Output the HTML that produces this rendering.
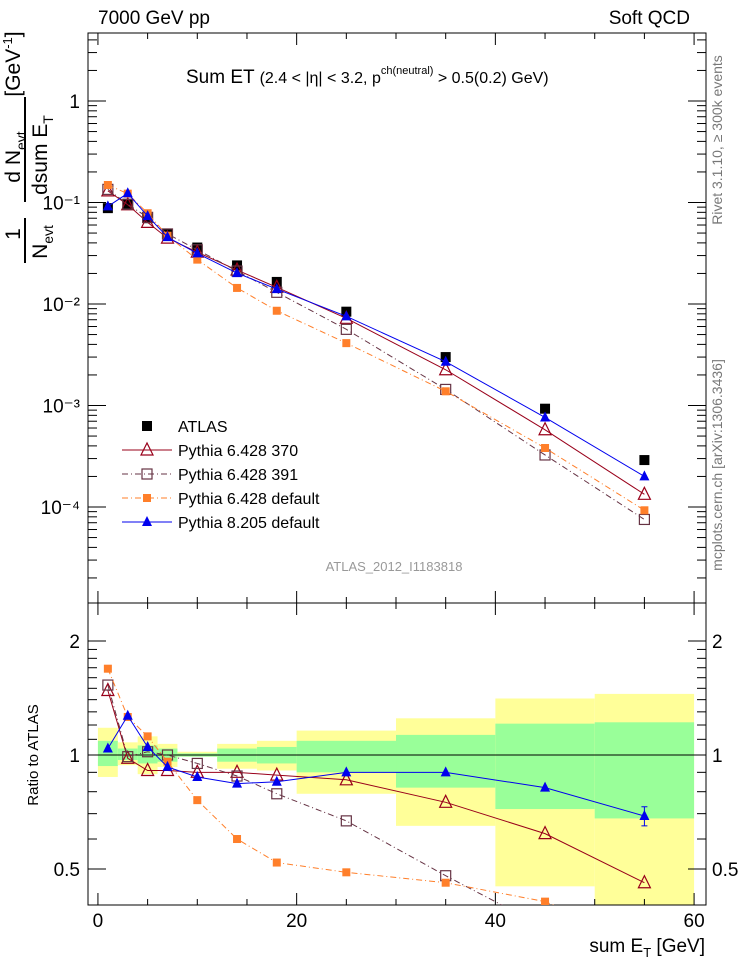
<!DOCTYPE html>
<html><head><meta charset="utf-8"><style>
body{margin:0;background:#fff;}
svg{display:block;font-family:"Liberation Sans",sans-serif;}
</style></head><body>
<svg id="c" width="746" height="972" viewBox="0 0 746 972">
<text x="98" y="24" font-size="19">7000 GeV pp</text>
<text x="690" y="24" font-size="19" text-anchor="end">Soft QCD</text>
<text x="186" y="83" font-size="19">Sum ET <tspan font-size="16">(2.4 &lt; |η| &lt; 3.2, p</tspan><tspan font-size="11" dy="-9">ch(neutral)</tspan><tspan font-size="16" dy="9"> &gt; 0.5(0.2) GeV)</tspan></text>
<text x="394" y="571" font-size="13" fill="#999" text-anchor="middle">ATLAS_2012_I1183818</text>
<text transform="translate(722,140) rotate(-90)" font-size="14" fill="#777" text-anchor="middle">Rivet 3.1.10, ≥ 300k events</text>
<text transform="translate(722,465) rotate(-90)" font-size="14" fill="#777" text-anchor="middle">mcplots.cern.ch [arXiv:1306.3436]</text>
<g font-size="21">
<text transform="translate(20,64) rotate(-90)" text-anchor="middle">[GeV<tspan font-size="13" dy="-8">-1</tspan><tspan dy="8">]</tspan></text>
<text transform="translate(20,157) rotate(-90)" text-anchor="middle">d N<tspan font-size="14" dy="6">evt</tspan></text>
<line x1="25" y1="97" x2="25" y2="202" stroke="#000" stroke-width="2"/>
<text transform="translate(47,155) rotate(-90)" text-anchor="middle">dsum E<tspan font-size="14" dy="6">T</tspan></text>
<text transform="translate(20,234) rotate(-90)" text-anchor="middle">1</text>
<line x1="25" y1="218" x2="25" y2="263" stroke="#000" stroke-width="2"/>
<text transform="translate(47,242) rotate(-90)" text-anchor="middle">N<tspan font-size="14" dy="6">evt</tspan></text>
</g>
<text transform="translate(38,755) rotate(-90)" font-size="15" text-anchor="middle">Ratio to ATLAS</text>
<text x="705" y="952" font-size="19" text-anchor="end">sum E<tspan font-size="13" dy="5">T</tspan><tspan dy="-5"> [GeV]</tspan></text>
</svg>
<script>
const xVals=[1,3,5,7,10,14,18,25,35,45,55];
const binLo=[0,2,4,6,8,12,16,20,30,40,50];
const binHi=[2,4,6,8,12,16,20,30,40,50,60];
const atlas=[0.088,0.097,0.070,0.049,0.036,0.024,0.0165,0.0084,0.0030,0.00093,0.00029];
const r370=[1.48,0.98,0.91,0.91,0.90,0.90,0.885,0.86,0.75,0.62,0.46];
const r391=[1.53,0.99,1.02,1.00,0.95,0.88,0.79,0.67,0.48,0.35,0.26];
const rDef=[1.69,1.26,1.12,0.96,0.76,0.60,0.52,0.49,0.46,0.41,0.32];
const rP8=[1.04,1.27,1.05,0.93,0.875,0.84,0.85,0.90,0.90,0.82,0.69];
const rP8Err=[0,0,0,0,0,0,0,0,0,0,0.04];
const yelHi=[1.18,1.08,1.12,1.07,1.02,1.07,1.09,1.16,1.25,1.41,1.45];
const yelLo=[0.875,0.94,0.89,0.93,0.99,0.92,0.91,0.79,0.65,0.45,0.30];
const grnHi=[1.09,1.04,1.06,1.04,1.01,1.04,1.05,1.09,1.13,1.21,1.22];
const grnLo=[0.935,0.97,0.95,0.96,0.99,0.96,0.95,0.90,0.82,0.72,0.68];
const yTicks=[1e-4,1e-3,1e-2,1e-1,1];
const yTickLabels=["10\u207B\u2074","10\u207B\u00B3","10\u207B\u00B2","10\u207B\u00B9","1"];
const rTicks=[0.5,1,2];
const rTickLabels=["0.5","1","2"];
const xTicks=[0,20,40,60];
const xTickLabels=["0","20","40","60"];

const svg=document.getElementById('c');const NS="http://www.w3.org/2000/svg";
const L=88,R=706,T=33,M=603,B=905;
const X=v=>L+(v+1)*(R-L)/62.2;
const Y=v=>101-Math.log10(v)*101.5;
const YR=v=>755-Math.log2(v)*114;
function el(t,a,p){const e=document.createElementNS(NS,t);for(const k in a)e.setAttribute(k,a[k]);(p||svg).appendChild(e);return e;}
function clipR(id,y1,y2){const c=el('clipPath',{id});el('rect',{x:L,y:y1,width:R-L,height:y2-y1},c);}
clipR('ct',T,M);clipR('cb',M,B);
const gb=el('g',{'clip-path':'url(#cb)'});


for(let i=0;i<xVals.length;i++){
 const y=el('rect',{x:X(binLo[i]),width:X(binHi[i])-X(binLo[i]),y:YR(yelHi[i]),height:YR(yelLo[i])-YR(yelHi[i]),fill:'#ffff99'},gb);
 
 
 const g=el('rect',{x:X(binLo[i]),width:X(binHi[i])-X(binLo[i]),y:YR(grnHi[i]),height:YR(grnLo[i])-YR(grnHi[i]),fill:'#99ff99'},gb);
 
 
}
el('line',{x1:L,x2:R,y1:YR(1),y2:YR(1),stroke:'#000','stroke-width':1});
const f1=el('rect',{x:L,y:T,width:R-L,height:M-T,fill:'none',stroke:'#000','stroke-width':1});


const f2=el('rect',{x:L,y:M,width:R-L,height:B-M,fill:'none',stroke:'#000','stroke-width':1});


for(let v=0;v<=60;v+=5){const maj=v%20==0;const h=maj?12:6;
 for(const [y0,d] of [[B,-1],[M,-1],[M,1],[T,1]]){el('line',{x1:X(v),x2:X(v),y1:y0,y2:y0+d*h,stroke:'#000'});}}
xTicks.forEach((v,i)=>{const t=el('text',{x:X(v),y:927,'font-size':19,'text-anchor':'middle'});t.textContent=xTickLabels[i];
 
 });
for(let e=-5;e<=0;e++)for(let m=1;m<=9;m++){const v=m*Math.pow(10,e);const y=Y(v);if(y<T||y>M)continue;const h=m==1?18:9;
 el('line',{x1:L,x2:L+h,y1:y,y2:y,stroke:'#000'});el('line',{x1:R,x2:R-h,y1:y,y2:y,stroke:'#000'});}
yTicks.forEach((v,i)=>{const t=el('text',{x:80,y:Y(v)+7,'font-size':19,'text-anchor':'end'});t.textContent=yTickLabels[i];
 
 });
[0.5,0.6,0.7,0.8,0.9,1,1.1,1.2,1.3,1.4,1.5,1.6,1.7,1.8,1.9,2].forEach(v=>{const big=[0.5,1,2].includes(v);const h=big?18:9;const y=YR(v);
 el('line',{x1:L,x2:L+h,y1:y,y2:y,stroke:'#000'});el('line',{x1:R,x2:R-h,y1:y,y2:y,stroke:'#000'});});
rTicks.forEach((v,i)=>{for(const [x,a] of [[80,'end'],[712,'start']]){const t=el('text',{x,y:YR(v)+7,'font-size':19,'text-anchor':a});t.textContent=rTickLabels[i];
 
 }});
function marker(type,x,y,col,g){
 if(type=='sq')return el('rect',{x:x-5,y:y-5,width:10,height:10,fill:col},g);
 if(type=='osq')return el('rect',{x:x-5,y:y-5,width:10,height:10,fill:'none',stroke:col,'stroke-width':1.2},g);
 if(type=='otri')return el('polygon',{points:`${x},${y-7} ${x-6},${y+5} ${x+6},${y+5}`,fill:'none',stroke:col,'stroke-width':1.2},g);
 if(type=='tri')return el('polygon',{points:`${x},${y-6} ${x-5},${y+4} ${x+5},${y+4}`,fill:col},g);
 if(type=='ssq')return el('rect',{x:x-4,y:y-4,width:8,height:8,fill:col},g);
}
const series=[
 {name:'pythia-6428-370',r:r370,col:'#99001a',m:'otri',dash:''},
 {name:'pythia-6428-391',r:r391,col:'#663344',m:'osq',dash:'6,3,1,3'},
 {name:'pythia-6428-default',r:rDef,col:'#ff7f2a',m:'ssq',dash:'6,3,1,3'},
 {name:'pythia-8205-default',r:rP8,col:'#0000ee',m:'tri',dash:''}];
const ga=el('g',{});


xVals.forEach((x,i)=>marker('sq',X(x),Y(atlas[i]),'#000',ga));
series.forEach(s=>{
 const gt=el('g',{'clip-path':'url(#ct)'});
 
 
 const pts=xVals.map((x,i)=>[X(x),Y(s.r[i]*atlas[i])]);
 el('polyline',{points:pts.map(p=>p.join(',')).join(' '),fill:'none',stroke:s.col,'stroke-width':1,'stroke-dasharray':s.dash},gt);
 pts.forEach(p=>marker(s.m,p[0],p[1],s.col,gt));
 const gr=el('g',{'clip-path':'url(#cb)'});
 
 
 const rp=xVals.map((x,i)=>[X(x),YR(s.r[i])]);
 el('polyline',{points:rp.map(p=>p.join(',')).join(' '),fill:'none',stroke:s.col,'stroke-width':1,'stroke-dasharray':s.dash},gr);
 rp.forEach(p=>marker(s.m,p[0],p[1],s.col,gr));
 if(s.r===rP8){xVals.forEach((x,i)=>{if(rP8Err[i]>0){const y1=YR(rP8[i]+rP8Err[i]),y2=YR(rP8[i]-rP8Err[i]);
  el('line',{x1:X(x),x2:X(x),y1,y2,stroke:s.col},gr);
  el('line',{x1:X(x)-3,x2:X(x)+3,y1,y2:y1,stroke:s.col},gr);
  el('line',{x1:X(x)-3,x2:X(x)+3,y1:y2,y2,stroke:s.col},gr);}});}
});
const leg=[['ATLAS','sq','#000',''],['Pythia 6.428 370','otri','#99001a',''],['Pythia 6.428 391','osq','#663344','6,3,1,3'],['Pythia 6.428 default','ssq','#ff7f2a','6,3,1,3'],['Pythia 8.205 default','tri','#0000ee','']];
leg.forEach((l,i)=>{const y=426+i*24;const g=el('g',{});
 
 
 if(i>0)el('line',{x1:122,x2:172,y1:y,y2:y,stroke:l[2],'stroke-dasharray':l[3]},g);
 marker(l[1],147,y,l[2],g);
 const t=el('text',{x:178,y:y+6,'font-size':16},g);t.textContent=l[0];});
</script>
</body></html>
